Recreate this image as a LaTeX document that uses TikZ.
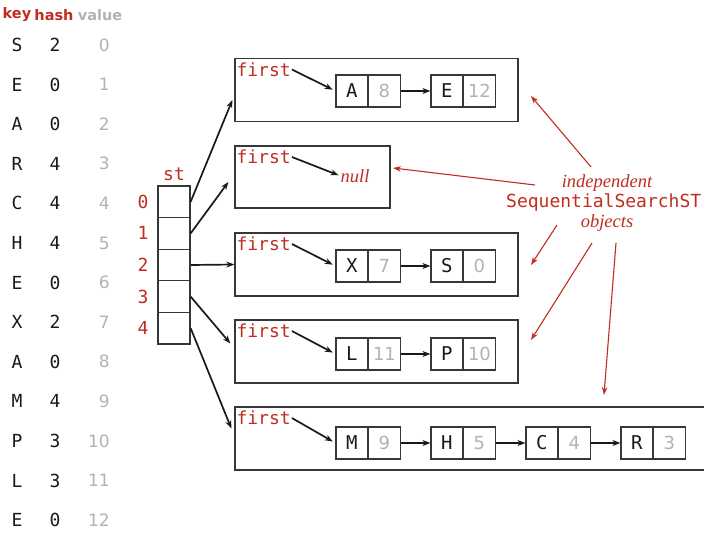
\documentclass[tikz,border=0pt]{standalone}
\usepackage{fontspec}
\setmainfont{DejaVu Sans}
\setmonofont{DejaVu Sans Mono}
\newfontfamily\serffont{Liberation Serif}
\usetikzlibrary{arrows.meta,calc}
\definecolor{bookred}{RGB}{192,44,32}
\definecolor{valgray}{RGB}{178,178,178}
\definecolor{boxgray}{RGB}{55,55,55}
\definecolor{ink}{RGB}{25,25,25}
\tikzset{
  hdr/.style={font=\fontsize{14.5}{16}\selectfont\bfseries, inner sep=0pt},
  keyt/.style={font=\ttfamily\fontsize{18}{20}\selectfont, text=ink, inner sep=0pt},
  hasht/.style={font=\ttfamily\fontsize{18}{20}\selectfont, text=ink, inner sep=0pt},
  valt/.style={font=\fontsize{17}{20}\selectfont, text=valgray, inner sep=0pt, anchor=east},
  redmono/.style={font=\ttfamily\fontsize{18}{20}\selectfont, text=bookred, inner sep=1pt},
  stcell/.style={draw=boxgray, line width=1.3pt, minimum width=32pt, minimum height=31.6pt, inner sep=0pt},
  objbox/.style={draw=boxgray, line width=1.3pt, inner sep=0pt},
  kcell/.style={draw=boxgray, line width=1.2pt, minimum width=31.5pt, minimum height=32pt, inner sep=0pt, font=\ttfamily\fontsize{19}{20}\selectfont, text=ink},
  vcell/.style={draw=boxgray, line width=1.2pt, minimum width=31.5pt, minimum height=32pt, inner sep=0pt, font=\fontsize{18}{20}\selectfont, text=valgray},
  ptr/.style={draw=ink, line width=1.7pt, -{Stealth[length=8pt,width=6pt]}},
  redptr/.style={draw=bookred, line width=1.1pt, -{Stealth[length=8pt,width=5.5pt]}},
  redit/.style={font=\serffont\itshape\fontsize{18.5}{20}\selectfont, text=bookred, inner sep=0pt},
}
\begin{document}
\begin{tikzpicture}[x=1pt,y=-1pt]
\useasboundingbox (0,0) rectangle (704,534);
% header
\node[hdr, text=bookred] (hkey) at (17,15) {key};
\node[hdr, text=bookred] (hhash) at (54,15) {hash};
\node[hdr, text=valgray] (hval) at (100,15) {value};
% table
\foreach \k/\h/\v [count=\i from 0] in {S/2/0,E/0/1,A/0/2,R/4/3,C/4/4,H/4/5,E/0/6,X/2/7,A/0/8,M/4/9,P/3/10,L/3/11,E/0/12}{
  \node[keyt] (tk\i) at (17,45+39.6*\i) {\k};
  \node[hasht] (th\i) at (55,45+39.6*\i) {\h};
  \node[valt] (tv\i) at (110,45+39.6*\i) {\v};
}
% st array
\node[redmono] (stlbl) at (174,174) {st};
\foreach \i in {0,...,4}{
  \node[stcell] (st\i) at (174,201.8+31.6*\i) {};
  \node[redmono] (idx\i) at (143,201.8+31.6*\i) {\i};
}
% object boxes
\node[objbox, minimum width=283pt, minimum height=63pt] (box0) at (376.5,90) {};
\node[objbox, minimum width=155pt, minimum height=62pt] (box1) at (312.5,177) {};
\node[objbox, minimum width=283pt, minimum height=63pt] (box2) at (376.5,264.5) {};
\node[objbox, minimum width=283pt, minimum height=63pt] (box3) at (376.5,351.5) {};
\node[objbox, minimum width=485pt, minimum height=63pt] (box4) at (477.5,438.5) {};
% first labels
\foreach \b in {0,...,4}{
  \node[redmono, anchor=north west] (f\b) at ($(box\b.north west)+(1,3.5)$) {first};
}
% st pointers
\draw[ptr] (st0.east) -- ($(box0.west)+(-2,10)$);
\draw[ptr] (st1.east) -- ($(box1.west)+(-6,5)$);
\draw[ptr] (st2.east) -- (box2.west);
\draw[ptr] (st3.east) -- ($(box3.west)+(-4,-8)$);
\draw[ptr] (st4.east) -- ($(box4.west)+(-3,-10)$);
% box0
\node[kcell] (n0ak) at (351.75,91) {A};
\node[vcell, anchor=west] (n0av) at (n0ak.east) {8};
\node[kcell] (n0bk) at (446.75,91) {E};
\node[vcell, anchor=west] (n0bv) at (n0bk.east) {12};
\draw[ptr, shorten >=3pt] (f0.east) -- (n0ak.west);
\draw[ptr] (n0av.east) -- (n0bk.west);
% box1
\node[redit] (null1) at (355,176) {null};
\draw[ptr, shorten >=2pt] (f1.east) -- (null1.west);
% box2
\node[kcell] (n2ak) at (351.75,266) {X};
\node[vcell, anchor=west] (n2av) at (n2ak.east) {7};
\node[kcell] (n2bk) at (446.75,266) {S};
\node[vcell, anchor=west] (n2bv) at (n2bk.east) {0};
\draw[ptr, shorten >=3pt] (f2.east) -- (n2ak.west);
\draw[ptr] (n2av.east) -- (n2bk.west);
% box3
\node[kcell] (n3ak) at (351.75,354) {L};
\node[vcell, anchor=west] (n3av) at (n3ak.east) {11};
\node[kcell] (n3bk) at (446.75,354) {P};
\node[vcell, anchor=west] (n3bv) at (n3bk.east) {10};
\draw[ptr, shorten >=3pt] (f3.east) -- (n3ak.west);
\draw[ptr] (n3av.east) -- (n3bk.west);
% box4
\node[kcell] (n4ak) at (351.75,443) {M};
\node[vcell, anchor=west] (n4av) at (n4ak.east) {9};
\node[kcell] (n4bk) at (446.75,443) {H};
\node[vcell, anchor=west] (n4bv) at (n4bk.east) {5};
\node[kcell] (n4ck) at (541.75,443) {C};
\node[vcell, anchor=west] (n4cv) at (n4ck.east) {4};
\node[kcell] (n4dk) at (636.75,443) {R};
\node[vcell, anchor=west] (n4dv) at (n4dk.east) {3};
\draw[ptr, shorten >=3pt] (f4.east) -- (n4ak.west);
\draw[ptr] (n4av.east) -- (n4bk.west);
\draw[ptr] (n4bv.east) -- (n4ck.west);
\draw[ptr] (n4cv.east) -- (n4dk.west);
% red labels
\node[redit] (lind) at (607,183) {independent};
\node[redmono, anchor=west, inner sep=0pt] (lsss) at (506,203) {SequentialSearchST};
\node[redit] (lobj) at (607,223) {objects};
% red pointers
\coordinate (r1s) at (591,167); \coordinate (r1e) at (531,96);
\coordinate (r2s) at (535,185); \coordinate (r2e) at (393,168);
\coordinate (r3s) at (557,225); \coordinate (r3e) at (531,265);
\coordinate (r4s) at (592,243); \coordinate (r4e) at (531,340);
\coordinate (r5s) at (616,243); \coordinate (r5e) at (604,395);
\draw[redptr] (r1s) -- (r1e);
\draw[redptr] (r2s) -- (r2e);
\draw[redptr] (r3s) -- (r3e);
\draw[redptr] (r4s) -- (r4e);
\draw[redptr] (r5s) -- (r5e);
\end{tikzpicture}
\end{document}
